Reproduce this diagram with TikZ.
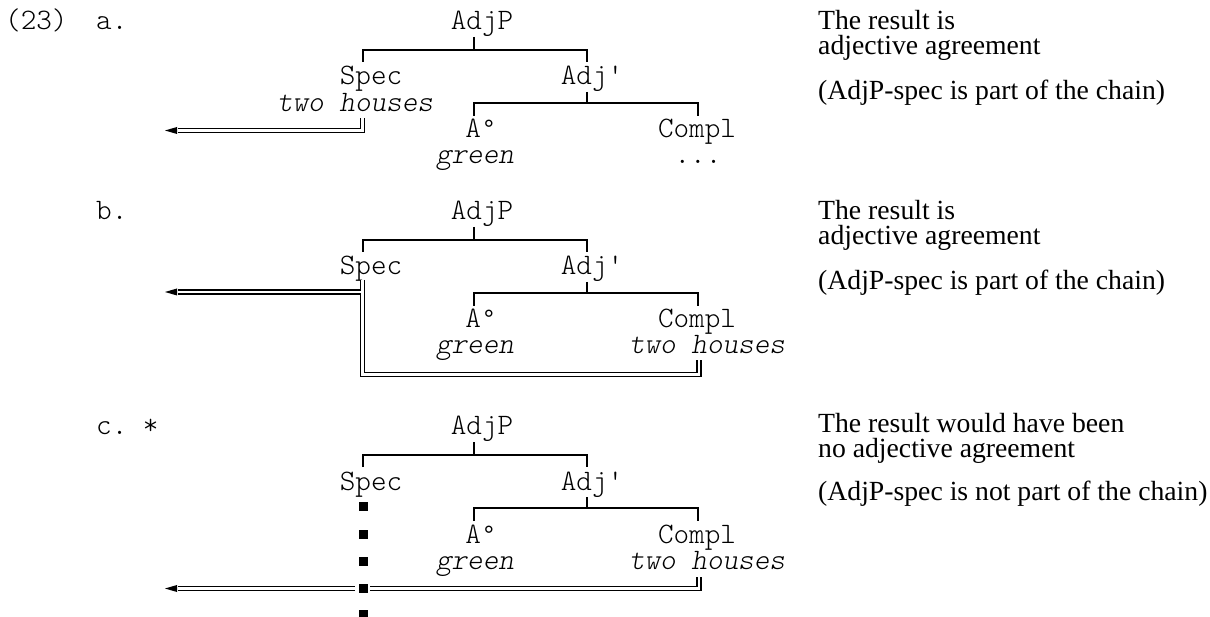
\documentclass[tikz,border=0pt]{standalone}
\usepackage{fontspec}
\setmainfont{Liberation Serif}
\setmonofont{lmmonolt10-regular.otf}[ItalicFont=lmmonolt10-oblique.otf]
\newfontfamily\degfont{Liberation Mono}
\newcommand\dg{{\degfont\fontsize{26}{27}\selectfont°}}
\begin{document}
\begin{tikzpicture}[x=1pt,y=-1pt,
  mono/.style={font=\ttfamily\fontsize{29.7}{31}\selectfont, inner sep=0pt, anchor=base, text height=16pt, text depth=5pt},
  ital/.style={font=\ttfamily\itshape\fontsize{29.7}{31}\selectfont, inner sep=0pt, anchor=base, text height=16pt, text depth=5pt},
  lbl/.style={font=\ttfamily\fontsize{29.7}{31}\selectfont, inner sep=0pt, anchor=base west},
  serif/.style={font=\fontsize{27.7}{29}\selectfont, inner sep=0pt, anchor=base west},
  branch/.style={line width=1.5pt},
  chain/.style={double, double distance=2.6pt, line width=1.5pt},
  tipshape/.style={fill=black},
  blk/.style={fill=black}]
\useasboundingbox (0,0) rectangle (1210,617);

% ---------- panel a ----------
\node[lbl] (num) at (5,30) {(23)};
\node[lbl] (la) at (96,30) {a.};
\node[mono] (a-adjp) at (482,30) {AdjP};
\node[mono] (a-spec) at (371,85) {Spec};
\node[mono] (a-adj) at (592,85) {Adj\symbol{39}};
\node[mono] (a-a) at (481,138) {A\dg};
\node[mono] (a-compl) at (697,138) {Compl};
\node[ital] (a-two) at (355,112) {two houses};
\node[ital] (a-green) at (475,164) {green};
\node[mono] (a-dots) at (698,164) {...};
\draw[branch] (474,37) -- (474,50);
\draw[branch] (363,62) |- (587,50) -- (587,62);
\draw[branch] (587,92) -- (587,103);
\draw[branch] (474,116) |- (698,103) -- (698,116);
\coordinate (a-src) at (362.5,118);
\coordinate (a-end) at (178,130.5);
\draw[chain] (a-src) |- (a-end);
\fill[tipshape] (165,130.5) -- (177,127) -- (177,134) -- cycle;
\node[serif] (a-t1) at (818,30) {The result is};
\node[serif] (a-t2) at (818,55) {adjective agreement};
\node[serif] (a-t3) at (818,100) {(AdjP-spec is part of the chain)};

% ---------- panel b ----------
\node[lbl] (lb) at (96,220) {b.};
\node[mono] (b-adjp) at (482,220) {AdjP};
\node[mono] (b-spec) at (371,275) {Spec};
\node[mono] (b-adj) at (592,275) {Adj\symbol{39}};
\node[mono] (b-a) at (481,328) {A\dg};
\node[mono] (b-compl) at (697,328) {Compl};
\node[ital] (b-green) at (475,354) {green};
\node[ital] (b-two) at (707,354) {two houses};
\begin{scope}[shift={(0,190)}]
\draw[branch] (474,37) -- (474,50);
\draw[branch] (363,62) |- (587,50) -- (587,62);
\draw[branch] (587,92) -- (587,103);
\draw[branch] (474,116) |- (698,103) -- (698,116);
\end{scope}
\coordinate (b-src) at (362.5,280);
\coordinate (b-dst) at (699,360);
\coordinate (b-corner) at (699,374.5);
\coordinate (b-end) at (178,292);
\coordinate (b-join) at (361.3,292);
\draw[chain] (b-src) |- (b-corner) -- (b-dst);
\draw[chain] (b-end) -- (b-join);
\fill[tipshape] (165,292) -- (177,288.5) -- (177,295.5) -- cycle;
\node[serif] (b-t1) at (818,220) {The result is};
\node[serif] (b-t2) at (818,245) {adjective agreement};
\node[serif] (b-t3) at (818,290) {(AdjP-spec is part of the chain)};

% ---------- panel c ----------
\node[lbl] (lc) at (96,435) {c. *};
\node[mono] (c-adjp) at (482,435) {AdjP};
\node[mono] (c-spec) at (371,490) {Spec};
\node[mono] (c-adj) at (592,490) {Adj\symbol{39}};
\node[mono] (c-a) at (481,543) {A\dg};
\node[mono] (c-compl) at (697,543) {Compl};
\node[ital] (c-green) at (475,569) {green};
\node[ital] (c-two) at (707,569) {two houses};
\begin{scope}[shift={(0,405)}]
\draw[branch] (474,37) -- (474,50);
\draw[branch] (363,62) |- (587,50) -- (587,62);
\draw[branch] (587,92) -- (587,103);
\draw[branch] (474,116) |- (698,103) -- (698,116);
\end{scope}
\foreach \yy in {506,534,561.5,588.5,614}
  \fill[blk] (358.5,\yy-4.5) rectangle (367.5,\yy+4.5);
\coordinate (c-end) at (178,588.5);
\coordinate (c-gapl) at (355,588.5);
\coordinate (c-gapr) at (370,588.5);
\coordinate (c-dst) at (699,577);
\draw[chain] (c-end) -- (c-gapl);
\draw[chain] (c-gapr) -| (c-dst);
\fill[tipshape] (165,588.5) -- (177,585) -- (177,592) -- cycle;
\node[serif] (c-t1) at (818,432) {The result would have been};
\node[serif] (c-t2) at (818,457) {no adjective agreement};
\node[serif] (c-t3) at (818,500) {(AdjP-spec is not part of the chain)};
\end{tikzpicture}
\end{document}
